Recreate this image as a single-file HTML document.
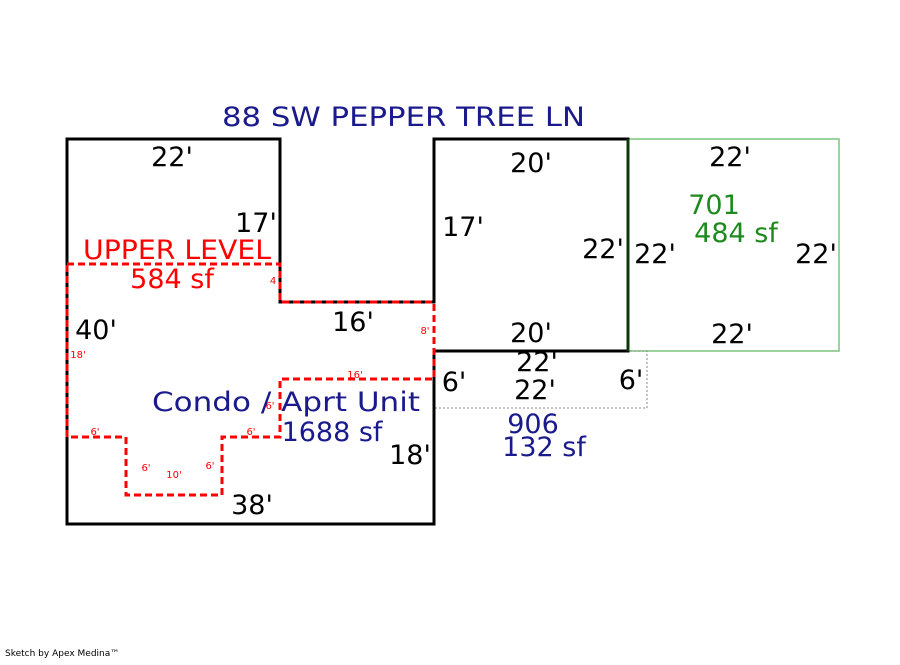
<!DOCTYPE html>
<html><head><meta charset="utf-8"><style>
html,body{margin:0;padding:0;background:#fff;}
svg text{font-family:"DejaVu Sans","Liberation Sans",sans-serif;}
</style></head><body>
<svg width="900" height="660" viewBox="0 0 900 660" xmlns="http://www.w3.org/2000/svg">
<rect width="900" height="660" fill="#fff"/>
<text x="222" y="126" font-size="27" fill="#1a1a8c" textLength="363" lengthAdjust="spacingAndGlyphs">88 SW PEPPER TREE LN</text>
<rect x="628" y="139" width="211" height="212" fill="none" stroke="#7cc47c" stroke-width="1.5"/>
<polyline points="434,351 647,351 647,408 434,408" fill="none" stroke="#888" stroke-width="1" stroke-dasharray="2,2"/>
<polygon points="67,139 280,139 280,302 434,302 434,139 628,139 628,351 434,351 434,524 67,524" fill="none" stroke="#000" stroke-width="3"/>
<line x1="628" y1="139" x2="628" y2="351" stroke="#0a3a0a" stroke-width="3"/>
<polygon points="67,264 280,264 280,302 434,302 434,379 280,379 280,437 222,437 222,495 126,495 126,437 67,437" fill="none" stroke="#f00" stroke-width="3" stroke-dasharray="7,4"/>
<g font-size="27" fill="#000">
<text x="172" y="166" text-anchor="middle">22'</text>
<text x="256" y="232" text-anchor="middle">17'</text>
<text x="96" y="339" text-anchor="middle">40'</text>
<text x="353" y="331" text-anchor="middle">16'</text>
<text x="410" y="464" text-anchor="middle">18'</text>
<text x="252" y="514" text-anchor="middle">38'</text>
<text x="531" y="172" text-anchor="middle">20'</text>
<text x="463" y="236" text-anchor="middle">17'</text>
<text x="603" y="258" text-anchor="middle">22'</text>
<text x="531" y="342" text-anchor="middle">20'</text>
<text x="730" y="166" text-anchor="middle">22'</text>
<text x="655" y="263" text-anchor="middle">22'</text>
<text x="816" y="263" text-anchor="middle">22'</text>
<text x="732" y="343" text-anchor="middle">22'</text>
<text x="537" y="371" text-anchor="middle">22'</text>
<text x="535" y="399" text-anchor="middle">22'</text>
<text x="454" y="391" text-anchor="middle">6'</text>
<text x="631" y="389" text-anchor="middle">6'</text>
</g>
<g fill="#f00">
<text x="83" y="259" font-size="27" textLength="188" lengthAdjust="spacingAndGlyphs">UPPER LEVEL</text>
<text x="172" y="288" font-size="27" text-anchor="middle">584 sf</text>
<g font-size="10" text-anchor="middle">
<text x="273" y="284">4</text>
<text x="425" y="334">8'</text>
<text x="78" y="358">18'</text>
<text x="355" y="378">16'</text>
<text x="270" y="409">6'</text>
<text x="95" y="435">6'</text>
<text x="251" y="435">6'</text>
<text x="146" y="471">6'</text>
<text x="174" y="478">10'</text>
<text x="210" y="469">6'</text>
</g>
</g>
<g fill="#1a1a8c" font-size="27">
<text x="152" y="411" textLength="268" lengthAdjust="spacingAndGlyphs">Condo / Aprt Unit</text>
<text x="332" y="441" text-anchor="middle">1688 sf</text>
<text x="533" y="433" text-anchor="middle">906</text>
<text x="544" y="456" text-anchor="middle">132 sf</text>
</g>
<g fill="#1e8a1e" font-size="27" text-anchor="middle">
<text x="714" y="214">701</text>
<text x="736" y="242">484 sf</text>
</g>
<text x="5" y="656" font-size="9" fill="#000">Sketch by Apex Medina™</text>
</svg>
</body></html>
